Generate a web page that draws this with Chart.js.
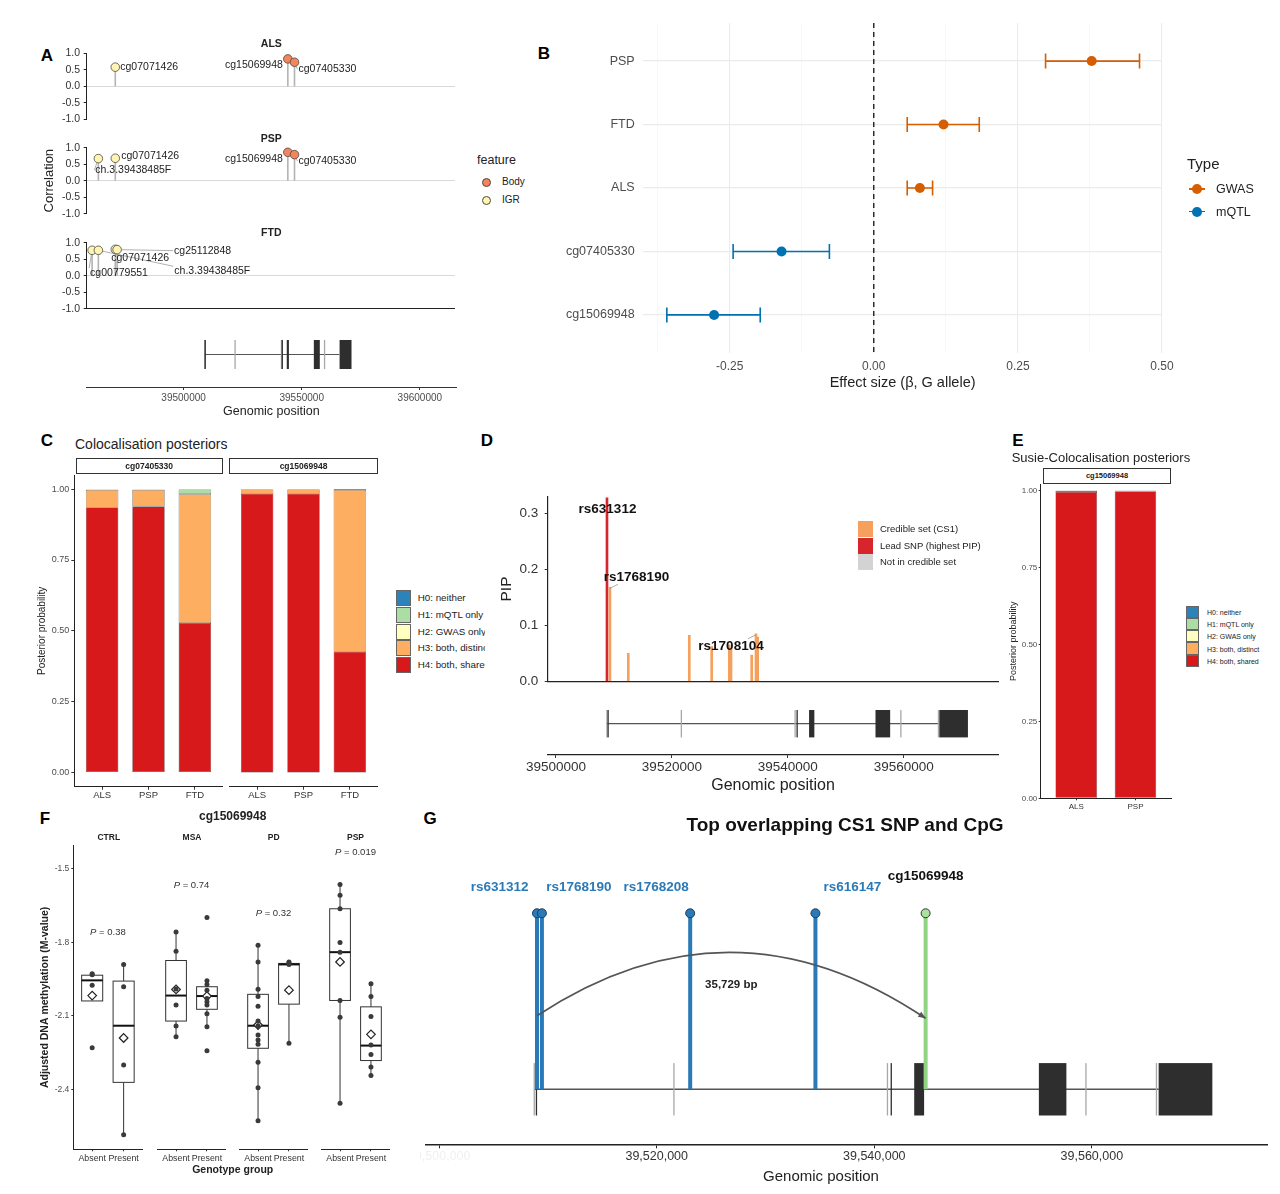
<!DOCTYPE html>
<html>
<head>
<meta charset="utf-8">
<title>Colocalisation figure</title>
<script src="https://cdn.jsdelivr.net/npm/chart.js@4.4.1/dist/chart.umd.min.js"></script>
<style>
  html, body { margin: 0; padding: 0; background: #fff; }
  body { position: relative; width: 1280px; height: 1194px; overflow: hidden;
         font-family: 'Liberation Sans', Arial, sans-serif; color: #222; }
  canvas { position: absolute; }
  .t { position: absolute; white-space: nowrap; line-height: 1; }
  .box { position: absolute; box-sizing: border-box; }
</style>
</head>
<body>
<script>
// ---------- data ----------
// A: probe correlations
const aProbes = ['cg00779551', 'ch.3.39438485F', 'cg07071426', 'cg25112848', 'cg15069948', 'cg07405330'];
const aProbePos = [39461300, 39463950, 39471130, 39471900, 39544380, 39547210];
const aFeature = ['IGR', 'IGR', 'IGR', 'IGR', 'Body', 'Body'];
const aCorrALS = [null, null, 0.58, null, 0.83, 0.73];
const aCorrPSP = [null, 0.67, 0.68, null, 0.86, 0.79];
const aCorrFTD = [0.77, 0.77, 0.80, 0.79, null, null];
const aXTicks = [39500000, 39550000, 39600000];
const aYTicks = [-1, -0.5, 0, 0.5, 1];

// gene model (A, D, G)
const exonStart = [39508680, 39508880, 39521520, 39541150, 39541500, 39543670, 39555130, 39559400, 39565880, 39566140];
const exonEnd   = [39508740, 39509000, 39521570, 39541200, 39541600, 39544580, 39557660, 39559440, 39565930, 39571080];
const exonTranscript = ['alt', 'main', 'alt', 'alt', 'main', 'main', 'main', 'alt', 'alt', 'main'];
const intronSpan = [39508740, 39566140];

// B: effect sizes (bottom to top)
const bLabels = ['cg15069948', 'cg07405330', 'ALS', 'FTD', 'PSP'];
const bBeta = [-0.277, -0.160, 0.080, 0.121, 0.378];
const bLow  = [-0.359, -0.244, 0.058, 0.058, 0.298];
const bHigh = [-0.197, -0.077, 0.102, 0.183, 0.461];
const bType = ['mQTL', 'mQTL', 'GWAS', 'GWAS', 'GWAS'];
const bXTicks = [-0.25, 0, 0.25, 0.5];

// C: coloc posteriors, rows H0..H4, columns ALS, PSP, FTD
const cTraits = ['ALS', 'PSP', 'FTD'];
const postCg07405330 = [[0, 0, 0], [0.001, 0.001, 0.016], [0.001, 0.001, 0.001], [0.062, 0.058, 0.454], [0.935, 0.939, 0.528]];
const postCg15069948 = [[0, 0, 0], [0.001, 0.001, 0.003], [0, 0, 0], [0.015, 0.015, 0.571], [0.984, 0.984, 0.426]];
const postTicks = [0, 0.25, 0.5, 0.75, 1];
const hypLabels = ['H0: neither', 'H1: mQTL only', 'H2: GWAS only', 'H3: both, distinct', 'H4: both, shared'];

// D: fine-mapping PIPs
const dPos = [39508801, 39509318, 39512476, 39523003, 39526868, 39529905, 39530198, 39533770, 39534512, 39534806];
const dPip = [0.328, 0.168, 0.050, 0.082, 0.062, 0.065, 0.058, 0.047, 0.085, 0.079];
const dSet = ['lead', 'cs', 'cs', 'cs', 'cs', 'cs', 'cs', 'cs', 'cs', 'cs'];
const dIds = ['rs631312', 'rs1768190', '', '', '', '', '', '', 'rs1708104', ''];
const dXTicks = [39500000, 39520000, 39540000, 39560000];
const pipTicks = [0, 0.1, 0.2, 0.3];

// E: susie coloc, rows H0..H4, columns ALS, PSP
const susieTraits = ['ALS', 'PSP'];
const susiePost = [[0, 0], [0.001, 0.001], [0, 0], [0.004, 0.002], [0.995, 0.997]];

// F: methylation by genotype (CTRL-A, CTRL-P, MSA-A, MSA-P, PD-A, PD-P, PSP-A, PSP-P)
const fDiseases = ['CTRL', 'MSA', 'PD', 'PSP'];
const fGenotypes = ['Absent', 'Present'];
const fPvalues = ['0.38', '0.74', '0.32', '0.019'];
const fWhiskLow  = [-2.039, -2.585, -2.185, -2.144, -2.528, -2.212, -2.456, -2.343];
const fQ1        = [-2.039, -2.371, -2.121, -2.073, -2.232, -2.052, -2.037, -2.282];
const fMedian    = [-1.955, -2.140, -2.017, -2.019, -2.140, -1.890, -1.840, -2.221];
const fQ3        = [-1.934, -1.958, -1.874, -1.981, -2.012, -1.886, -1.663, -2.063];
const fWhiskHigh = [-1.928, -1.890, -1.758, -1.957, -1.812, -1.880, -1.564, -1.969];
const fMean      = [-2.017, -2.190, -1.992, -2.019, -2.137, -1.995, -1.880, -2.175];
const fPoints = [
  [-1.928, -1.932, -1.975, -2.230],
  [-1.890, -1.981, -2.300, -2.585],
  [-1.758, -1.836, -1.990, -2.056, -2.141, -2.185],
  [-1.699, -1.957, -1.972, -1.995, -2.029, -2.042, -2.056, -2.091, -2.144, -2.242],
  [-1.812, -1.880, -1.991, -2.021, -2.061, -2.121, -2.140, -2.178, -2.198, -2.216, -2.289, -2.393, -2.528],
  [-1.880, -1.884, -1.890, -2.212],
  [-1.564, -1.608, -1.663, -1.801, -1.840, -2.037, -2.105, -2.456],
  [-1.969, -2.021, -2.102, -2.219, -2.257, -2.308, -2.343]
];
const fYTicks = [-2.4, -2.1, -1.8, -1.5];

// G: overlapping SNPs and CpG
const gSnpIds = ['rs631312', 'rs1768190', 'rs1768208', 'rs616147'];
const gSnpPos = [39508990, 39509443, 39523074, 39534589];
const gCpgId = 'cg15069948';
const gCpgPos = 39544719;
const gXTicks = [39500000, 39520000, 39540000, 39560000];

// ---------- styling ----------
const featureFill = { Body: '#f4845a', IGR: '#fff4b0' };
const typeColor = { GWAS: '#d55e00', mQTL: '#0072b2' };
const hypColors = ['#2b83ba', '#abdda4', '#ffffbf', '#fdae61', '#d7191c'];
const setColor = { cs: '#f5a05c', lead: '#d7262b', none: '#d3d3d3' };

// label nudges in pixels: [dx, dy, align, leader]
const aLabelNudge = {
  ALS: { cg07071426: [5, 0, 'left'], cg15069948: [-5, 6, 'right'], cg07405330: [4, 7, 'left', true] },
  PSP: { 'ch.3.39438485F': [-3, 11.5, 'left', true], cg07071426: [6, -2.5, 'left'], cg15069948: [-5, 7, 'right'], cg07405330: [4, 6.5, 'left', true] },
  FTD: { cg25112848: [57, 1, 'left', true], cg07071426: [-4, 8.5, 'left'], 'ch.3.39438485F': [76, 21, 'left', true], cg00779551: [-2, 23, 'left', true] }
};
const dLabelNudge = { rs631312: [0.5, 11.5], rs1768190: [26.5, -10], rs1708104: [-25, 13] };
const gLabelNudge = [[-37.4, -26], [37, -26], [-34, -26], [37, -26]];

const FONT = "'Liberation Sans', Arial, sans-serif";
Chart.defaults.font.family = FONT;
Chart.defaults.color = '#333';
Chart.defaults.animation = false;
Chart.defaults.events = [];
Chart.defaults.responsive = false;
Chart.defaults.maintainAspectRatio = false;
Chart.defaults.plugins.legend.display = false;
Chart.defaults.plugins.tooltip.enabled = false;

// ---------- helpers ----------
function addCanvas(left, top, w, h) {
  const c = document.createElement('canvas');
  c.width = w; c.height = h;
  c.style.left = left + 'px'; c.style.top = top + 'px';
  document.body.appendChild(c);
  return c;
}
function txt(s, x, y, o = {}) {
  const d = document.createElement('div');
  d.className = 't';
  d.textContent = s;
  d.style.left = x + 'px'; d.style.top = y + 'px';
  d.style.fontSize = (o.size || 12) + 'px';
  if (o.bold) d.style.fontWeight = 'bold';
  if (o.color) d.style.color = o.color;
  if (o.clip) { d.style.width = o.clip + 'px'; d.style.overflow = 'hidden'; }
  const tx = o.align === 'c' ? '-50%' : o.align === 'r' ? '-100%' : '0';
  d.style.transform = `translate(${tx},-50%)` + (o.rot ? ` rotate(${o.rot}deg)` : '');
  document.body.appendChild(d);
  return d;
}
function rect(x, y, w, h, fill, stroke) {
  const d = document.createElement('div');
  d.className = 'box';
  Object.assign(d.style, { left: x + 'px', top: y + 'px', width: w + 'px', height: h + 'px', background: fill });
  if (stroke) d.style.border = '1px solid ' + stroke;
  document.body.appendChild(d);
  return d;
}
function dot(cx, cy, r, fill, stroke) {
  const d = rect(cx - r, cy - r, 2 * r, 2 * r, fill, stroke);
  d.style.borderRadius = '50%';
  return d;
}
// force axis box sizes so the plot areas land where the reference has them
function noPad(s) { s.paddingTop = 0; s.paddingBottom = 0; s.paddingLeft = 0; s.paddingRight = 0; }
const fixW = w => s => { noPad(s); if (s.options.display !== false) s.width = w; };
const fixH = h => s => { noPad(s); if (s.options.display !== false) s.height = h; };
const setTicks = vals => s => { s.ticks = vals.map(v => ({ value: v })); };
const yTitle = (text, size, cxRel, bold) => ({ display: true, text, color: '#222', font: { size, weight: bold ? 'bold' : 'normal' }, padding: { top: cxRel - size * 0.6, bottom: 0 } });
const xTitle = (text, size, cyRel, hRel) => ({ display: true, text, color: '#222', font: { size }, padding: { top: 0, bottom: hRel - cyRel - size * 0.6 } });

function genePlugin(centerVal, halfPx, lineW) {
  return {
    id: 'gene',
    beforeDatasetsDraw(chart) {
      const { ctx, scales: { x, y } } = chart;
      const yc = y.getPixelForValue(centerVal);
      ctx.save();
      ctx.strokeStyle = '#555';
      ctx.lineWidth = lineW;
      ctx.beginPath();
      ctx.moveTo(x.getPixelForValue(intronSpan[0]), yc);
      ctx.lineTo(x.getPixelForValue(intronSpan[1]), yc);
      ctx.stroke();
      exonStart.forEach((s, i) => {
        const x0 = x.getPixelForValue(s), x1 = x.getPixelForValue(exonEnd[i]);
        ctx.fillStyle = exonTranscript[i] === 'main' ? '#2e2e2e' : '#a8a8a8';
        ctx.fillRect(x0, yc - halfPx, Math.max(x1 - x0, 1.3), halfPx * 2);
      });
      ctx.restore();
    }
  };
}
function stemPlugin(colorFn, width) {
  return {
    id: 'stems',
    beforeDatasetsDraw(chart) {
      const { ctx, scales: { x, y } } = chart;
      ctx.save();
      ctx.lineWidth = width;
      chart.data.datasets.forEach((ds, di) => ds.data.forEach(p => {
        const px = x.getPixelForValue(p.x);
        ctx.strokeStyle = colorFn(di, p);
        ctx.beginPath();
        ctx.moveTo(px, y.getPixelForValue(0));
        ctx.lineTo(px, y.getPixelForValue(p.y));
        ctx.stroke();
      }));
      ctx.restore();
    }
  };
}

// ---------- panel letters ----------
[['A', 47, 55], ['B', 544, 53], ['C', 47, 440], ['D', 487, 440], ['E', 1018, 440], ['F', 45, 818], ['G', 430, 818]]
  .forEach(([l, x, y]) => txt(l, x, y, { size: 17, bold: true, align: 'c', color: '#000' }));

// ---------- Panel A ----------
const aXRange = [39459000, 39615300];
function aChart(panel, values, top, padTop, withTitle, withBase) {
  const pts = [];
  values.forEach((v, i) => { if (v !== null) pts.push({ x: aProbePos[i], y: v, id: aProbes[i], f: aFeature[i] }); });
  const nudges = aLabelNudge[panel];
  const pix = (chart, p) => [chart.scales.x.getPixelForValue(p.x), chart.scales.y.getPixelForValue(p.y)];
  const labels = {
    id: 'aLabels',
    beforeDatasetsDraw(chart) {
      const ctx = chart.ctx;
      ctx.save();
      ctx.strokeStyle = '#9a9a9a';
      ctx.lineWidth = 0.8;
      pts.forEach(p => {
        const n = nudges[p.id];
        if (!n || !n[3]) return;
        const [px, py] = pix(chart, p);
        ctx.beginPath();
        ctx.moveTo(px, py);
        ctx.lineTo(px + n[0] - 1, py + n[1] - (Math.abs(n[1]) > 15 ? 5 : 0));
        ctx.stroke();
      });
      ctx.restore();
    },
    afterDatasetsDraw(chart) {
      const ctx = chart.ctx;
      ctx.save();
      ctx.font = `10.5px ${FONT}`;
      ctx.fillStyle = '#222';
      ctx.textBaseline = 'middle';
      pts.forEach(p => {
        const n = nudges[p.id];
        if (!n) return;
        const [px, py] = pix(chart, p);
        ctx.textAlign = n[2];
        ctx.fillText(p.id, px + n[0], py + n[1]);
      });
      ctx.restore();
    }
  };
  return new Chart(addCanvas(30, top, 430, 78), {
    type: 'scatter',
    data: { datasets: [{ data: pts, pointRadius: 4.3, pointBackgroundColor: c => featureFill[c.raw.f], pointBorderColor: '#4a4a4a', pointBorderWidth: 0.8, clip: false }] },
    options: {
      layout: { padding: { top: padTop, right: 4, bottom: 78 - padTop - 66, left: 0 } },
      scales: {
        x: {
          min: aXRange[0], max: aXRange[1], display: withBase, afterFit: fixH(0),
          ticks: { display: false }, grid: { display: false }, border: { display: true, color: '#222', width: 1 }
        },
        y: {
          min: -1, max: 1, afterFit: fixW(56.7), afterBuildTicks: setTicks(aYTicks),
          ticks: { autoSkip: false, callback: v => v.toFixed(1), font: { size: 10.5 }, color: '#333', padding: 3.7 },
          grid: { color: c => (c.tick && c.tick.value === 0 ? '#d9d9d9' : 'rgba(0,0,0,0)'), tickColor: '#222', tickLength: 3, lineWidth: 1 },
          border: { color: '#222', width: 1 },
          title: withTitle ? yTitle('Correlation', 13, 49 - 30) : { display: false }
        }
      }
    },
    plugins: [stemPlugin(() => '#b3b3b3', 1.6), labels]
  });
}
aChart('ALS', aCorrALS, 47, 6.3, false, false);
aChart('PSP', aCorrPSP, 141, 6.7, true, false);
aChart('FTD', aCorrFTD, 236, 6.7, false, true);
txt('ALS', 271.3, 43, { size: 10.5, bold: true, align: 'c' });
txt('PSP', 271.3, 137.5, { size: 10.5, bold: true, align: 'c' });
txt('FTD', 271.3, 232, { size: 10.5, bold: true, align: 'c' });

new Chart(addCanvas(30, 328, 430, 92), {
  type: 'scatter',
  data: { datasets: [] },
  options: {
    layout: { padding: { left: 56.7, right: 4, top: 0, bottom: 0 } },
    scales: {
      x: {
        min: aXRange[0], max: aXRange[1], afterFit: fixH(33), afterBuildTicks: setTicks(aXTicks),
        ticks: { autoSkip: false, maxRotation: 0, callback: v => String(v), font: { size: 10 }, color: '#4d4d4d', padding: 2 },
        grid: { drawOnChartArea: false, tickLength: 3, tickColor: '#333' },
        border: { color: '#333', width: 1 },
        title: xTitle('Genomic position', 12.5, 412 - 328, 92)
      },
      y: { display: false, min: 0, max: 1 }
    }
  },
  plugins: [genePlugin(0.551, 14.5, 1.2)]
});
txt('feature', 477, 160, { size: 12.5 });
dot(486, 182, 4.5, featureFill.Body, '#4a4a4a');
dot(486, 200, 4.5, featureFill.IGR, '#4a4a4a');
txt('Body', 502, 182, { size: 10 });
txt('IGR', 502, 200, { size: 10 });

// ---------- Panel B ----------
const bMinor = bXTicks.slice(0, -1).map((v, i) => (v + bXTicks[i + 1]) / 2);
bMinor.unshift(bXTicks[0] - 0.125);
const bAllTicks = bMinor.concat(bXTicks).sort((a, b) => a - b);
const isMajor = v => bXTicks.some(t => Math.abs(t - v) < 1e-9);
const bRows = t => bBeta.map((b, i) => ({ x: b, y: i + 1, t: bType[i] })).filter(r => r.t === t);
const bDecor = {
  id: 'bDecor',
  beforeDatasetsDraw(chart) {
    const { ctx, chartArea: a, scales: { x, y } } = chart;
    ctx.save();
    ctx.strokeStyle = '#111';
    ctx.lineWidth = 1.3;
    ctx.setLineDash([5, 4]);
    const x0 = x.getPixelForValue(0);
    ctx.beginPath(); ctx.moveTo(x0, a.top); ctx.lineTo(x0, a.bottom); ctx.stroke();
    ctx.setLineDash([]);
    ctx.lineWidth = 1.6;
    bBeta.forEach((b, i) => {
      const py = y.getPixelForValue(i + 1), xl = x.getPixelForValue(bLow[i]), xh = x.getPixelForValue(bHigh[i]);
      ctx.strokeStyle = typeColor[bType[i]];
      ctx.beginPath();
      ctx.moveTo(xl, py); ctx.lineTo(xh, py);
      ctx.moveTo(xl, py - 7.5); ctx.lineTo(xl, py + 7.5);
      ctx.moveTo(xh, py - 7.5); ctx.lineTo(xh, py + 7.5);
      ctx.stroke();
    });
    ctx.restore();
  }
};
new Chart(addCanvas(540, 17, 660, 381), {
  type: 'scatter',
  data: {
    datasets: ['GWAS', 'mQTL'].map(t => ({ label: t, data: bRows(t), pointRadius: 5, pointBackgroundColor: typeColor[t], pointBorderWidth: 0, clip: false }))
  },
  options: {
    layout: { padding: { top: 6, right: 38, bottom: 0, left: 0 } },
    scales: {
      x: {
        min: -0.4, max: 0.5, afterFit: fixH(45), afterBuildTicks: setTicks(bAllTicks),
        ticks: { autoSkip: false, maxRotation: 0, callback: v => (isMajor(v) ? v.toFixed(2) : ''), font: { size: 12 }, color: '#4d4d4d', padding: 6.5 },
        grid: { color: c => (isMajor(c.tick.value) ? '#ebebeb' : '#f5f5f5'), lineWidth: c => (isMajor(c.tick.value) ? 1.1 : 0.7), drawTicks: false },
        border: { display: false },
        title: xTitle('Effect size (β, G allele)', 14.5, 383 - 17, 381)
      },
      y: {
        min: 0.4, max: 5.6, afterFit: fixW(103.2), afterBuildTicks: setTicks([1, 2, 3, 4, 5]),
        ticks: { autoSkip: false, callback: v => bLabels[v - 1], font: { size: 12.5 }, color: '#4d4d4d', padding: 8.5 },
        grid: { color: '#ebebeb', lineWidth: 1.3, drawTicks: false },
        border: { display: false }
      }
    }
  },
  plugins: [bDecor]
});
txt('Type', 1187, 163, { size: 15 });
['GWAS', 'mQTL'].forEach((t, i) => {
  const y = 189 + i * 22.7;
  rect(1189, y - 0.8, 16, 1.6, typeColor[t]);
  dot(1197, y, 5, typeColor[t]);
  txt(t, 1216, y, { size: 12.5 });
});

// ---------- Panel C ----------
function postFacet(canvasBox, padLeft, padRight, traits, post, withY, cfg) {
  return new Chart(addCanvas(...canvasBox), {
    type: 'bar',
    data: {
      datasets: [4, 3, 2, 1, 0].map(h => ({
        label: hypLabels[h],
        data: traits.map((t, i) => ({ x: i + 1, y: post[h][i] })),
        backgroundColor: hypColors[h], borderColor: '#3a3a3a', borderWidth: 0.5, borderSkipped: false,
        barPercentage: 0.7, categoryPercentage: 1
      }))
    },
    options: {
      layout: { padding: { top: cfg.padTop, right: padRight, bottom: 0, left: padLeft } },
      scales: {
        x: {
          type: 'linear', offset: false, stacked: true, min: 0.4, max: traits.length + 0.6,
          afterFit: fixH(cfg.xH), afterBuildTicks: setTicks(traits.map((t, i) => i + 1)),
          ticks: { autoSkip: false, maxRotation: 0, callback: v => traits[v - 1], font: { size: cfg.xSize }, color: '#333', padding: cfg.xPad },
          grid: { offset: false, drawOnChartArea: false, tickLength: cfg.tl, tickColor: '#333' },
          border: { color: '#222', width: 1 }
        },
        y: {
          display: withY, stacked: true, min: cfg.yMin, max: cfg.yMax,
          afterFit: fixW(cfg.yW), afterBuildTicks: setTicks(postTicks),
          ticks: { autoSkip: false, callback: v => v.toFixed(2), font: { size: cfg.ySize }, color: '#4d4d4d', padding: cfg.yPad },
          grid: { drawOnChartArea: false, tickLength: cfg.tl, tickColor: '#333' },
          border: { color: '#222', width: 1 },
          title: yTitle('Posterior probability', cfg.titleSize, cfg.titleX)
        }
      }
    }
  });
}
const cCfg = { padTop: 5, xH: 23.3, xSize: 9.5, xPad: 0.3, tl: 3, yMin: -0.05, yMax: 1.05, yW: 46.3, ySize: 9, yPad: 2, titleSize: 10, titleX: 42.7 - 28 };
postFacet([28, 470, 200, 340], 0, 5.3, cTraits, postCg07405330, true, cCfg);
postFacet([228, 470, 155, 340], 1.3, 5.3, cTraits, postCg15069948, false, cCfg);
txt('Colocalisation posteriors', 75, 444, { size: 14 });
rect(75.7, 457.7, 147, 16.6, '#fff', '#333');
rect(229.3, 457.7, 148.4, 16.6, '#fff', '#333');
txt('cg07405330', 149.2, 466, { size: 8.5, bold: true, align: 'c' });
txt('cg15069948', 303.5, 466, { size: 8.5, bold: true, align: 'c' });
hypLabels.forEach((lab, i) => {
  const y = 598.3 + i * 16.7;
  rect(395.7, y - 8, 15, 16, hypColors[i], '#666');
  txt(lab, 417.7, y, { size: 9.8, clip: 485 - 417.7 });
});

// ---------- Panel D ----------
const dLabels = {
  id: 'dLabels',
  afterDatasetsDraw(chart) {
    const { ctx, scales: { x, y } } = chart;
    ctx.save();
    ctx.font = `bold 13.5px ${FONT}`;
    ctx.fillStyle = '#111';
    ctx.textAlign = 'center';
    ctx.textBaseline = 'middle';
    dIds.forEach((id, i) => {
      if (!id) return;
      const px = x.getPixelForValue(dPos[i]), py = y.getPixelForValue(dPip[i]);
      const [dx, dy] = dLabelNudge[id];
      if (Math.abs(dx) > 5) {
        ctx.strokeStyle = '#999';
        ctx.lineWidth = 0.8;
        ctx.beginPath();
        ctx.moveTo(px, py + 1);
        ctx.lineTo(px + (dx > 0 ? 8 : -8), py + (dy > 0 ? 5 : -3));
        ctx.stroke();
      }
      ctx.fillText(id, px + dx, py + dy);
    });
    ctx.restore();
  }
};
const dXRange = [39498570, 39576320];
new Chart(addCanvas(490, 488, 512, 198), {
  type: 'bar',
  data: {
    datasets: [{
      label: 'PIP', data: dPos.map((p, i) => ({ x: p, y: dPip[i] })),
      backgroundColor: dSet.map(s => setColor[s]), barThickness: 2, grouped: false, borderWidth: 0
    }]
  },
  options: {
    layout: { padding: { top: 8.7, right: 3.7, bottom: 4.7, left: 0 } },
    scales: {
      x: {
        type: 'linear', offset: false, min: dXRange[0], max: dXRange[1], afterFit: fixH(0),
        ticks: { display: false }, grid: { display: false, offset: false }, border: { display: true, color: '#222', width: 1.2 }
      },
      y: {
        min: 0, max: 0.33, afterFit: fixW(57.7), afterBuildTicks: setTicks(pipTicks),
        ticks: { autoSkip: false, callback: v => v.toFixed(1), font: { size: 13.5 }, color: '#333', padding: 6.4 },
        grid: { drawOnChartArea: false, tickLength: 3, tickColor: '#333' },
        border: { color: '#222', width: 1.2 },
        title: yTitle('PIP', 15.5, 506.7 - 490)
      }
    }
  },
  plugins: [dLabels]
});
new Chart(addCanvas(490, 694, 512, 106), {
  type: 'scatter',
  data: { datasets: [] },
  options: {
    layout: { padding: { left: 57.7, right: 3.7, top: 6, bottom: 0 } },
    scales: {
      x: {
        min: dXRange[0], max: dXRange[1], afterFit: fixH(45), afterBuildTicks: setTicks(dXTicks),
        ticks: { autoSkip: false, maxRotation: 0, callback: v => String(v), font: { size: 13.5 }, color: '#333', padding: 1.6 },
        grid: { drawOnChartArea: false, tickLength: 3, tickColor: '#333' },
        border: { color: '#222', width: 1.2 },
        title: xTitle('Genomic position', 16, 786 - 694, 106)
      },
      y: { display: false, min: 0, max: 1 }
    }
  },
  plugins: [genePlugin(0.569, 13.7, 1.2)]
});
[['Credible set (CS1)', 'cs'], ['Lead SNP (highest PIP)', 'lead'], ['Not in credible set', 'none']].forEach(([lab, k], i) => {
  const y = 529 + i * 16.7;
  rect(857.7, y - 8, 15, 16, setColor[k]);
  txt(lab, 880, y, { size: 9.5 });
});

// ---------- Panel E ----------
postFacet([1000, 478, 176, 340], 0, 5, susieTraits, susiePost, true,
  { padTop: 6.3, xH: 19.7, xSize: 8, xPad: 1.6, tl: 2, yMin: 0, yMax: 1.02, yW: 40.7, ySize: 8, yPad: 1.4, titleSize: 9, titleX: 1013.3 - 1000 });
txt('Susie-Colocalisation posteriors', 1011.7, 456.7, { size: 13 });
rect(1043.3, 468.3, 127.7, 16, '#fff', '#333');
txt('cg15069948', 1107, 476.3, { size: 7.5, bold: true, align: 'c' });
hypLabels.forEach((lab, i) => {
  const y = 611.7 + i * 12.3;
  rect(1185.7, y - 6.2, 13.3, 12.3, hypColors[i], '#666');
  txt(lab, 1207, y, { size: 7 });
});

// ---------- Panel F ----------
const fYRange = [-2.644, -1.405];
function fFacet(d, left, width, padLeft, padRight, withY) {
  const idx = [2 * d, 2 * d + 1];
  const boxes = {
    id: 'boxes',
    beforeDatasetsDraw(chart) {
      const { ctx, scales: { x, y } } = chart;
      ctx.save();
      idx.forEach((k, i) => {
        const cx = x.getPixelForValue(i + 1), half = x.getPixelForValue(1.335) - x.getPixelForValue(1);
        ctx.strokeStyle = '#333';
        ctx.lineWidth = 1;
        ctx.beginPath();
        ctx.moveTo(cx, y.getPixelForValue(fWhiskLow[k])); ctx.lineTo(cx, y.getPixelForValue(fQ1[k]));
        ctx.moveTo(cx, y.getPixelForValue(fQ3[k])); ctx.lineTo(cx, y.getPixelForValue(fWhiskHigh[k]));
        ctx.stroke();
        const top = y.getPixelForValue(fQ3[k]), bot = y.getPixelForValue(fQ1[k]);
        ctx.fillStyle = '#fff';
        ctx.fillRect(cx - half, top, 2 * half, bot - top);
        ctx.strokeRect(cx - half, top, 2 * half, bot - top);
        ctx.lineWidth = 2;
        ctx.strokeStyle = '#111';
        const ym = y.getPixelForValue(fMedian[k]);
        ctx.beginPath(); ctx.moveTo(cx - half, ym); ctx.lineTo(cx + half, ym); ctx.stroke();
      });
      ctx.restore();
    },
    afterDatasetsDraw(chart) {
      const { ctx, chartArea: a, scales: { y } } = chart;
      const top = Math.max(...fPoints[idx[0]], ...fPoints[idx[1]]) + 0.13;
      const py = y.getPixelForValue(top), cx = (a.left + a.right) / 2;
      ctx.save();
      ctx.fillStyle = '#333';
      ctx.textBaseline = 'middle';
      ctx.font = `italic 9.5px ${FONT}`;
      const w1 = ctx.measureText('P').width;
      ctx.font = `9.5px ${FONT}`;
      const rest = ' = ' + fPvalues[d];
      const w2 = ctx.measureText(rest).width;
      const x0 = cx - (w1 + w2) / 2;
      ctx.textAlign = 'left';
      ctx.fillText(rest, x0 + w1, py);
      ctx.font = `italic 9.5px ${FONT}`;
      ctx.fillText('P', x0, py);
      ctx.restore();
    }
  };
  return new Chart(addCanvas(left, 840, width, 354), {
    type: 'scatter',
    data: {
      datasets: [
        { data: idx.flatMap((k, i) => fPoints[k].map(v => ({ x: i + 1, y: v }))), pointRadius: 2.5, pointBackgroundColor: '#3a3a3a', pointBorderWidth: 0, clip: false },
        { data: idx.map((k, i) => ({ x: i + 1, y: fMean[k] })), pointStyle: 'rectRot', pointRadius: 4.3, pointBackgroundColor: '#fff', pointBorderColor: '#222', pointBorderWidth: 1.2, clip: false }
      ]
    },
    options: {
      layout: { padding: { top: 5, right: padRight, bottom: 0, left: padLeft } },
      scales: {
        x: {
          min: 0.4, max: 2.6, afterFit: fixH(44.7), afterBuildTicks: setTicks([1, 2]),
          ticks: { autoSkip: false, maxRotation: 0, callback: v => fGenotypes[v - 1], font: { size: 8.8 }, color: '#333', padding: 1.6 },
          grid: { drawOnChartArea: false, tickLength: 2, tickColor: '#333' },
          border: { color: '#222', width: 1 }
        },
        y: {
          display: withY, min: fYRange[0], max: fYRange[1], afterFit: fixW(43.3), afterBuildTicks: setTicks(fYTicks),
          ticks: { autoSkip: false, callback: v => v.toFixed(1), font: { size: 8.5 }, color: '#4d4d4d', padding: 2 },
          grid: { drawOnChartArea: false, tickLength: 2, tickColor: '#333' },
          border: { color: '#222', width: 1 },
          title: yTitle('Adjusted DNA methylation (M-value)', 10.5, 45 - 30, true)
        }
      }
    },
    plugins: [boxes]
  });
}
fFacet(0, 30, 118, 0, 3.7, true);
fFacet(1, 152, 79, 4.7, 3.7, false);
fFacet(2, 234, 79, 4.3, 4, false);
fFacet(3, 316, 79, 4, 4, false);
txt('cg15069948', 232.7, 816, { size: 12, bold: true, align: 'c' });
[108.8, 192, 273.7, 355.5].forEach((cx, i) => txt(fDiseases[i], cx, 837.3, { size: 8.5, bold: true, align: 'c' }));
txt('Genotype group', 232.7, 1169.3, { size: 10.5, bold: true, align: 'c' });

// ---------- Panel G ----------
const gArc = {
  id: 'gArc',
  beforeDatasetsDraw(chart) {
    const { ctx, scales: { x, y } } = chart;
    const x0 = x.getPixelForValue(gSnpPos[0]), x1 = x.getPixelForValue(gCpgPos);
    const y0 = y.getPixelForValue(0.418), y1 = y.getPixelForValue(0.403), yc = y.getPixelForValue(1.146);
    const xc = (x0 + x1) / 2;
    ctx.save();
    ctx.strokeStyle = '#555';
    ctx.fillStyle = '#555';
    ctx.lineWidth = 1.8;
    ctx.beginPath();
    ctx.moveTo(x0, y0);
    ctx.quadraticCurveTo(xc, yc, x1, y1);
    ctx.stroke();
    const ang = Math.atan2(y1 - yc, x1 - xc);
    ctx.beginPath();
    ctx.moveTo(x1, y1);
    ctx.lineTo(x1 - 8 * Math.cos(ang - 0.4), y1 - 8 * Math.sin(ang - 0.4));
    ctx.lineTo(x1 - 8 * Math.cos(ang + 0.4), y1 - 8 * Math.sin(ang + 0.4));
    ctx.closePath();
    ctx.fill();
    ctx.font = `bold 11.5px ${FONT}`;
    ctx.fillStyle = '#222';
    ctx.textAlign = 'center';
    ctx.textBaseline = 'middle';
    ctx.fillText((gCpgPos - gSnpPos[0]).toLocaleString('en-US') + ' bp', xc, y.getPixelForValue(0.593));
    ctx.restore();
  }
};
const gLabels = {
  id: 'gLabels',
  afterDatasetsDraw(chart) {
    const { ctx, scales: { x, y } } = chart;
    ctx.save();
    ctx.font = `bold 13.5px ${FONT}`;
    ctx.textAlign = 'center';
    ctx.textBaseline = 'middle';
    const py = y.getPixelForValue(1);
    ctx.fillStyle = '#2a7ab8';
    gSnpIds.forEach((id, i) => ctx.fillText(id, x.getPixelForValue(gSnpPos[i]) + gLabelNudge[i][0], py + gLabelNudge[i][1]));
    ctx.fillStyle = '#111';
    ctx.fillText(gCpgId, x.getPixelForValue(gCpgPos), py - 36.5);
    ctx.restore();
  }
};
new Chart(addCanvas(420, 840, 855, 354), {
  type: 'scatter',
  data: {
    datasets: [
      { data: gSnpPos.map(p => ({ x: p, y: 1 })), pointRadius: 4.5, pointBackgroundColor: '#2a7ab8', pointBorderColor: '#1b3d5e', pointBorderWidth: 1, clip: false },
      { data: [{ x: gCpgPos, y: 1 }], pointRadius: 4.5, pointBackgroundColor: '#a8e29c', pointBorderColor: '#333', pointBorderWidth: 1, clip: false }
    ]
  },
  options: {
    layout: { padding: { top: 5.5, right: 7.5, bottom: 0, left: 5.5 } },
    scales: {
      x: {
        min: 39498740, max: 39576150, afterFit: fixH(49.7), afterBuildTicks: setTicks(gXTicks),
        ticks: { autoSkip: false, maxRotation: 0, callback: v => v.toLocaleString('en-US'), font: { size: 12.5 },
                 color: c => (c.tick && c.tick.value === gXTicks[0] ? '#f0f0f0' : '#333'), padding: 0.9 },
        grid: { drawOnChartArea: false, tickLength: 4, tickColor: '#222' },
        border: { color: '#222', width: 1.5 }
      },
      y: { display: false, min: -0.3125, max: 1.385 }
    }
  },
  plugins: [genePlugin(0, 26.2, 1.5), stemPlugin(di => (di === 0 ? '#2a7ab8' : '#8fd483'), 4), gArc, gLabels]
});
txt('Top overlapping CS1 SNP and CpG', 845, 824, { size: 19, bold: true, align: 'c', color: '#111' });
txt('Genomic position', 821, 1175, { size: 15, align: 'c' });
</script>
</body>
</html>
